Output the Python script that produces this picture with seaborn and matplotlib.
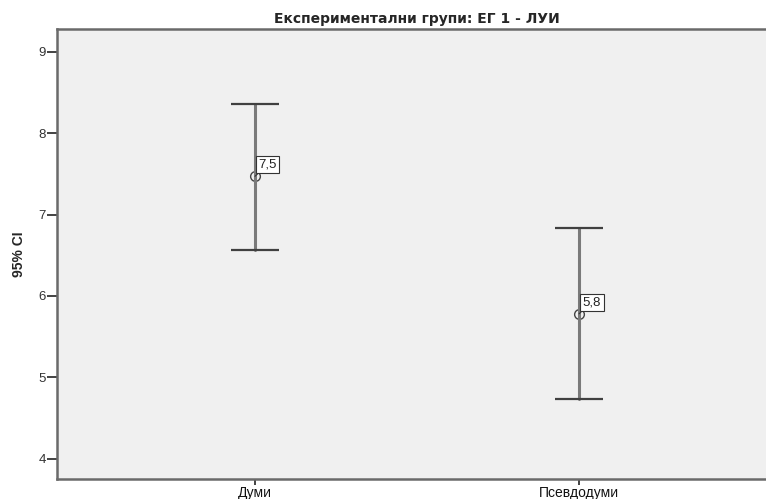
import matplotlib
matplotlib.use("Agg")
import matplotlib.pyplot as plt
import numpy as np
import pandas as pd
import seaborn as sns

# summary values
groups = ["Думи", "Псевдодуми"]
means = [7.47, 5.78]
ci_low = [6.57, 4.73]
ci_high = [8.36, 6.83]
labels = ["7,5", "5,8"]

# long table: lower bound, mean, upper bound per group
df = pd.DataFrame({
    "group": np.repeat(groups, 3),
    "value": np.ravel(np.column_stack([ci_low, means, ci_high])),
})

sns.set_style("white")
plt.rcParams["font.family"] = ["Liberation Sans", "DejaVu Sans"]

fig = plt.figure(figsize=(7.66, 4.99), dpi=100)
ax = fig.add_axes([57 / 766, 20 / 499, 720 / 766, 450 / 499])
ax.set_facecolor("#f0f0f0")

# vertical CI lines + mean markers
sns.pointplot(data=df, x="group", y="value", estimator=np.median,
              errorbar=lambda v: (v.min(), v.max()), capsize=0,
              linestyle="none", color="#7a7a7a", marker="o", markersize=7,
              markerfacecolor="none", markeredgecolor="#444444",
              markeredgewidth=1.0, err_kws={"linewidth": 2.2}, ax=ax)

# caps (darker, thinner like SPSS)
xs = np.arange(len(groups))
cap = 0.074
ax.hlines(ci_high, xs - cap, xs + cap, color="#404040", lw=1.6, zorder=3)
ax.hlines(ci_low, xs - cap, xs + cap, color="#404040", lw=1.6, zorder=3)

for i, (m, lab) in enumerate(zip(means, labels)):
    ax.annotate(lab, xy=(i, m), xytext=(2.5, 4), textcoords="offset points",
                fontsize=9.5, color="#222222", ha="left", va="bottom",
                bbox=dict(boxstyle="square,pad=0.2", fc="white", ec="#333333", lw=0.8),
                arrowprops=dict(arrowstyle="-", color="#333333", lw=0.8,
                                shrinkA=0, shrinkB=3), zorder=5)

ax.set_xlim(-0.611, 1.611)
ax.set_ylim(3.75, 9.28)
ax.set_yticks([4, 5, 6, 7, 8, 9])
ax.tick_params(axis="y", direction="out", length=7, width=1.2, color="#222222",
               labelsize=9.5, labelcolor="#333333", pad=1, left=True)
ax.tick_params(axis="x", direction="out", length=4, width=1.2, color="#222222",
               labelsize=10, labelcolor="#111111", pad=1, bottom=True)
ax.set_xlabel("")
ax.set_ylabel("95% CI", fontsize=10, fontweight="bold", labelpad=9)
ax.set_title("Експериментални групи: ЕГ 1 - ЛУИ", fontsize=10,
             fontweight="bold", family="DejaVu Sans", pad=4)
for s in ax.spines.values():
    s.set_visible(True)
    s.set_color("#6a6a6a")
    s.set_linewidth(1.8)

fig.savefig("out.png", dpi=100)
